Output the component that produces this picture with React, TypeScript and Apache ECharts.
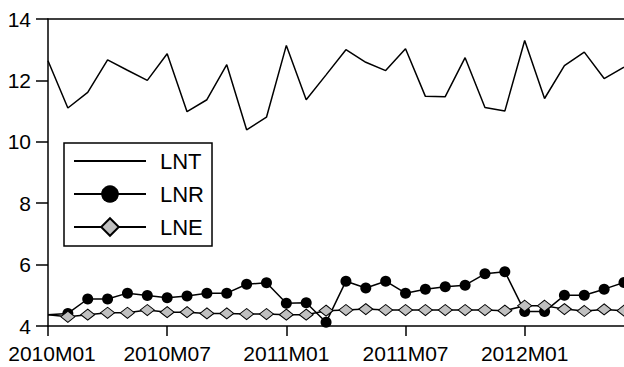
import React, { useEffect, useRef } from "react";
import * as echarts from "echarts";

const months: string[] = [
  "2010M01", "2010M02", "2010M03", "2010M04", "2010M05", "2010M06",
  "2010M07", "2010M08", "2010M09", "2010M10", "2010M11", "2010M12",
  "2011M01", "2011M02", "2011M03", "2011M04", "2011M05", "2011M06",
  "2011M07", "2011M08", "2011M09", "2011M10", "2011M11", "2011M12",
  "2012M01", "2012M02", "2012M03", "2012M04", "2012M05", "2012M06",
];

const lnt: number[] = [
  12.64, 11.1, 11.61, 12.67, 12.33, 12.0, 12.87, 10.98, 11.37, 12.51,
  10.39, 10.8, 13.14, 11.37, 12.18, 13.0, 12.59, 12.32, 13.03, 11.48,
  11.47, 12.74, 11.12, 11.0, 13.3, 11.41, 12.48, 12.92, 12.06, 12.43,
];

const lnr: number[] = [
  4.37, 4.41, 4.88, 4.88, 5.07, 4.99, 4.92, 4.98, 5.07, 5.07,
  5.36, 5.41, 4.74, 4.76, 4.12, 5.46, 5.24, 5.46, 5.07, 5.2,
  5.28, 5.33, 5.7, 5.77, 4.47, 4.47, 5.0, 5.0, 5.2, 5.42,
];

const lne: number[] = [
  4.37, 4.3, 4.37, 4.43, 4.43, 4.52, 4.45, 4.45, 4.41, 4.41,
  4.39, 4.39, 4.37, 4.37, 4.5, 4.52, 4.55, 4.52, 4.52, 4.52,
  4.52, 4.52, 4.52, 4.5, 4.66, 4.66, 4.55, 4.49, 4.54, 4.5,
];

const yTicks = { min: 4, max: 14, interval: 2 };

const FONT = "Liberation Sans";

// the first observation sits on the axis edge, where the original shows no marker
const hideFirstMarker = (arr: number[]) =>
  arr.map((v, i) => (i === 0 ? { value: v, symbol: "none" } : v));

export default function App() {
  const ref = useRef<HTMLDivElement>(null);

  useEffect(() => {
    if (!ref.current) return;
    const chart = echarts.init(ref.current, null, { renderer: "svg" });
    const axisLine = { show: true, lineStyle: { color: "#000", width: 1.5 } };
    chart.setOption({
      animation: false,
      backgroundColor: "#fff",
      grid: { left: 48, right: -2, top: 19, bottom: 41 },
      legend: {
        orient: "vertical",
        left: 64,
        top: 143,
        padding: [7, 8, 8, 9],
        itemWidth: 72,
        itemHeight: 22,
        itemGap: 11,
        borderColor: "#000",
        borderWidth: 1.5,
        backgroundColor: "#fff",
        textStyle: {
          fontFamily: FONT,
          fontSize: 22,
          color: "#000",
          lineHeight: 22,
          padding: [0, 0, 0, 9],
        },
        data: [
          { name: "LNT", itemStyle: { opacity: 0 } },
          { name: "LNR" },
          { name: "LNE" },
        ],
      },
      xAxis: [
        {
          type: "category",
          data: months,
          boundaryGap: false,
          position: "bottom",
          axisLine,
          axisTick: {
            show: true,
            interval: 5,
            length: 10,
            lineStyle: { color: "#000", width: 1.5 },
          },
          axisLabel: {
            interval: 5,
            margin: 17,
            color: "#000",
            fontFamily: FONT,
            fontSize: 21,
            formatter: (v: string, i: number) =>
              i === 0 ? "{first|" + v + "}" : v,
            rich: {
              first: {
                fontFamily: FONT,
                fontSize: 21,
                color: "#000",
                padding: [0, 0, 0, 8],
              },
            },
          },
          splitLine: { show: false },
        },
        {
          type: "category",
          data: months,
          boundaryGap: false,
          position: "top",
          axisLine,
          axisTick: { show: false },
          axisLabel: { show: false },
          splitLine: { show: false },
        },
      ],
      yAxis: {
        type: "value",
        min: yTicks.min,
        max: yTicks.max,
        interval: yTicks.interval,
        axisLine,
        axisTick: {
          show: true,
          length: 12,
          lineStyle: { color: "#000", width: 1.5 },
        },
        axisLabel: {
          margin: 17,
          color: "#000",
          fontFamily: FONT,
          fontSize: 21,
        },
        splitLine: { show: false },
      },
      series: [
        {
          name: "LNT",
          type: "line",
          data: lnt,
          symbol: "none",
          lineStyle: { color: "#000", width: 1.5 },
          itemStyle: { color: "#000" },
        },
        {
          name: "LNR",
          type: "line",
          data: hideFirstMarker(lnr),
          symbol: "circle",
          symbolSize: 11,
          showAllSymbol: true,
          lineStyle: { color: "#000", width: 1.5 },
          itemStyle: { color: "#000", borderColor: "#000", borderWidth: 0 },
        },
        {
          name: "LNE",
          type: "line",
          data: hideFirstMarker(lne),
          symbol: "diamond",
          symbolSize: [14, 11],
          showAllSymbol: true,
          lineStyle: { color: "#000", width: 1.5 },
          itemStyle: { color: "#c0c0c0", borderColor: "#000", borderWidth: 1 },
        },
      ],
    });
    return () => chart.dispose();
  }, []);

  return (
    <div
      ref={ref}
      style={{ position: "fixed", left: 0, top: 0, width: 624, height: 367 }}
    />
  );
}
